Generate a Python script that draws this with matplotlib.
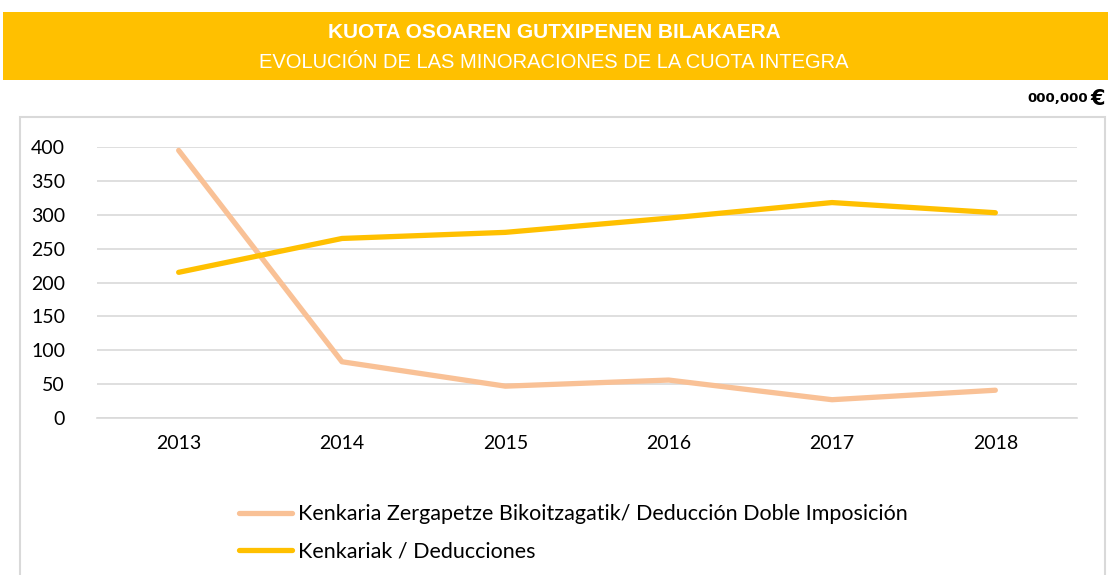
import matplotlib
matplotlib.use("Agg")
import matplotlib.pyplot as plt
from matplotlib.patches import Rectangle

years = ["2013", "2014", "2015", "2016", "2017", "2018"]
doble_imposicion = [395, 83, 47, 56, 27, 41]
deducciones = [215, 265, 274, 295, 318, 303]
yticks = [0, 50, 100, 150, 200, 250, 300, 350, 400]

title_eu = "KUOTA OSOAREN GUTXIPENEN BILAKAERA"
title_es = "EVOLUCIÓN DE LAS MINORACIONES DE LA CUOTA INTEGRA"
label_1 = "Kenkaria Zergapetze Bikoitzagatik/ Deducción Doble Imposición"
label_2 = "Kenkariak / Deducciones"

W, H = 1108, 575
fig = plt.figure(figsize=(W / 100, H / 100), dpi=100)

# title band
fig.patches.append(Rectangle((3 / W, 1 - 80 / H), 1 - 3 / W, 68 / H,
                             transform=fig.transFigure, facecolor="#FFC000",
                             edgecolor="none", zorder=0))
sans = ["Liberation Sans", "DejaVu Sans"]
fig.text(0.5, 1 - 32 / H, title_eu, ha="center", va="center", color="white",
         fontsize=15, fontweight="bold", family=sans)
fig.text(0.5, 1 - 62 / H, title_es, ha="center", va="center", color="white",
         fontsize=14.5, family=sans)
fig.text(1088 / W, 1 - 99 / H, "000,000", ha="right", va="center", color="black",
         fontsize=9.5, fontweight="bold", family=["DejaVu Sans"])
fig.text(1105 / W, 1 - 99 / H, "€", ha="right", va="center", color="black",
         fontsize=15, fontweight="bold", family=["DejaVu Sans"])

# chart border
fig.patches.append(Rectangle((20 / W, -0.01), 1085 / W, 1 - 117 / H + 0.01,
                             transform=fig.transFigure, facecolor="none",
                             edgecolor="#D9D9D9", linewidth=1.5, zorder=0))

ax = fig.add_axes([97 / W, 1 - 418 / H, 980 / W, 271 / H])
x = list(range(len(years)))
l1, = ax.plot(x, doble_imposicion, color="#F9C196", lw=3.8, solid_capstyle="round",
              solid_joinstyle="round", label=label_1)
l2, = ax.plot(x, deducciones, color="#FFC000", lw=3.8, solid_capstyle="round",
              solid_joinstyle="round", label=label_2)
ax.set_xlim(-0.5, len(years) - 0.5)
ax.set_ylim(0, 400)
ax.set_yticks(yticks)
ax.set_xticks(x)
ax.set_xticklabels(years)
ax.grid(axis="y", color="#D9D9D9", linewidth=1.2)
ax.set_axisbelow(True)
for s in ax.spines.values():
    s.set_visible(False)
ax.spines["bottom"].set_visible(True)
ax.spines["bottom"].set_color("#D9D9D9")
ax.spines["bottom"].set_linewidth(1.2)
ax.tick_params(length=0, labelsize=14, colors="#000000")
ax.tick_params(axis="y", pad=23)
ax.tick_params(axis="x", pad=12)
for t in ax.get_xticklabels() + ax.get_yticklabels():
    t.set_family(["Lato", "DejaVu Sans"])
ax.patch.set_alpha(0)

leg = fig.legend(handles=[l1, l2], loc="upper left", bbox_to_anchor=(220 / W, 1 - 485 / H),
                 frameon=False, handlelength=2.45, handletextpad=0.28, labelspacing=0.8,
                 prop={"family": ["Lato", "DejaVu Sans"], "size": 15.5})

fig.savefig("out.png", dpi=100)
